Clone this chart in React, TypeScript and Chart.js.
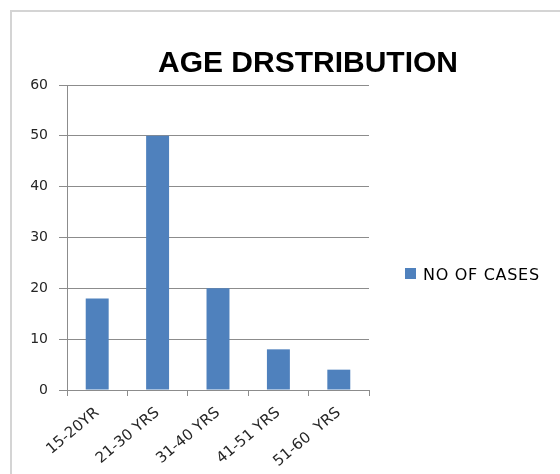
import React, { useEffect, useRef } from 'react';
import { Chart, registerables } from 'chart.js';

Chart.register(...registerables);

const TITLE = 'AGE DRSTRIBUTION';
const CATEGORIES = ['15-20YR', '21-30 YRS', '31-40 YRS', '41-51 YRS', '51-60  YRS'];
const SERIES_LABEL = 'NO OF CASES';
const CASES = [18, 50, 20, 8, 4];
const Y_MIN = 0;
const Y_MAX = 60;
const Y_STEP = 10;

const BAR_COLOR = '#4F81BD';
const GRID_COLOR = '#8c8c8c';
const TEXT_COLOR = '#262626';

const titlePlugin = {
  id: 'customTitle',
  afterDraw(chart: any) {
    const ctx = chart.ctx;
    ctx.save();
    ctx.font = 'bold 30px "Liberation Sans", Arial, sans-serif';
    ctx.fillStyle = '#000000';
    ctx.textAlign = 'center';
    ctx.textBaseline = 'alphabetic';
    ctx.fillText(TITLE, 308, 72);
    ctx.restore();
  },
};

const legendPlugin = {
  id: 'customLegend',
  afterDraw(chart: any) {
    const ctx = chart.ctx;
    const ds = chart.data.datasets[0];
    const x = chart.chartArea.right + 36;
    const y = 268;
    ctx.save();
    ctx.fillStyle = ds.backgroundColor;
    ctx.fillRect(x, y, 11, 11);
    ctx.font = '16px "DejaVu Sans", sans-serif';
    try {
      (ctx as any).letterSpacing = '0.7px';
    } catch (e) {}
    ctx.fillStyle = '#000000';
    ctx.textAlign = 'left';
    ctx.textBaseline = 'alphabetic';
    ctx.fillText(ds.label, x + 18, y + 12);
    ctx.restore();
  },
};

export default function App() {
  const canvasRef = useRef<HTMLCanvasElement | null>(null);

  useEffect(() => {
    const canvas = canvasRef.current;
    if (!canvas) return;
    const chart = new Chart(canvas, {
      type: 'bar',
      data: {
        labels: CATEGORIES,
        datasets: [
          {
            label: SERIES_LABEL,
            data: CASES,
            backgroundColor: BAR_COLOR,
            borderWidth: 0,
            categoryPercentage: 1,
            barPercentage: 0.38,
          },
        ],
      },
      options: {
        responsive: false,
        animation: false,
        devicePixelRatio: 1,
        layout: { padding: { left: 27, top: 85, right: 191, bottom: 0 } },
        plugins: {
          title: { display: false },
          tooltip: { enabled: false },
          legend: { display: false },
        },
        scales: {
          x: {
            grid: {
              display: true,
              drawOnChartArea: false,
              drawTicks: true,
              tickLength: 6,
              color: GRID_COLOR,
              offset: true,
            },
            border: { color: GRID_COLOR, width: 1 },
            ticks: {
              minRotation: 40,
              maxRotation: 40,
              autoSkip: false,
              padding: 8,
              color: TEXT_COLOR,
              font: { family: '"DejaVu Sans"', size: 15 },
            },
            afterFit: (s: any) => {
              s.height = 84;
            },
          },
          y: {
            min: Y_MIN,
            max: Y_MAX,
            ticks: {
              stepSize: Y_STEP,
              padding: 11,
              color: TEXT_COLOR,
              font: { family: '"DejaVu Sans"', size: 14 },
            },
            grid: { color: GRID_COLOR, tickLength: 8 },
            border: { color: GRID_COLOR, width: 1 },
            afterFit: (s: any) => {
              s.width = 40;
            },
          },
        },
      },
      plugins: [titlePlugin, legendPlugin],
    });
    return () => chart.destroy();
  }, []);

  return (
    <div
      style={{
        position: 'fixed',
        left: 0,
        top: 0,
        width: 560,
        height: 474,
        background: '#ffffff',
        overflow: 'hidden',
      }}
    >
      <div
        style={{
          position: 'absolute',
          left: 10,
          top: 10,
          width: 600,
          height: 500,
          borderLeft: '2px solid #d4d4d4',
          borderTop: '2px solid #d4d4d4',
        }}
      />
      <canvas
        ref={canvasRef}
        width={560}
        height={474}
        style={{ position: 'absolute', left: 0, top: 0 }}
      />
    </div>
  );
}
